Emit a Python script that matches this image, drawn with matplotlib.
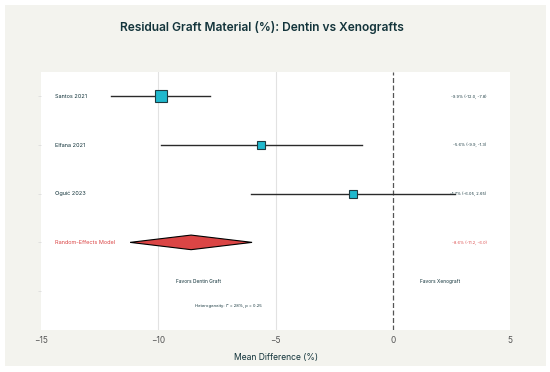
import matplotlib
matplotlib.use("Agg")
import matplotlib.pyplot as plt
from matplotlib.patches import Rectangle, Polygon

plt.rcParams['font.family'] = ['Inter', 'DejaVu Sans']

studies = ["Santos 2021", "Elfana 2021", "Oguić 2023"]
means = [-9.9, -5.6, -1.7]
lows = [-12.0, -9.9, -6.05]
highs = [-7.8, -1.3, 2.65]
labels_ci = ["-9.9% (-12.0, -7.8)", "-5.6% (-9.9, -1.3)", "-1.7% (-6.05, 2.65)"]
marker_sizes = [9, 6, 6.3]

pooled_label = "Random-Effects Model"
pooled_mean = -8.6
pooled_low = -11.2
pooled_high = -6.0
pooled_text = "-8.6% (-11.2, -6.0)"

heterogeneity = "Heterogeneity: I² = 28%, p = 0.25"
title = "Residual Graft Material (%): Dentin vs Xenografts"
xlabel = "Mean Difference (%)"
xticks = [-15, -10, -5, 0, 5]

TEAL = "#1FB8CD"
RED = "#DB4545"
DARK = "#13343B"
BG = "#F3F3EE"

fig = plt.figure(figsize=(5.5, 3.72), dpi=100)
fig.patch.set_facecolor("white")
fig.patches.append(Rectangle((5/550, 6/372), 541/550, 361/372, transform=fig.transFigure,
                             facecolor=BG, edgecolor="none", zorder=-10))

ax = fig.add_axes([41/550, 42/372, 469/550, 258/372])
ax.set_facecolor("white")
for s in ax.spines.values():
    s.set_visible(False)

ys = [4, 3, 2]
for y, m, lo, hi, lab, ci, ms in zip(ys, means, lows, highs, studies, labels_ci, marker_sizes):
    ax.plot([lo, hi], [y, y], color="#2a2a2a", lw=1.0, zorder=3)
    ax.plot([m], [y], marker="s", ms=ms, mfc=TEAL, mec="#1d3a40", mew=0.8, zorder=4)
    ax.text(-14.4, y, lab, ha="left", va="center", fontsize=4.0, color=DARK)
    ax.text(4.0, y, ci, ha="right", va="center", fontsize=2.9, color=DARK, zorder=5)

yp = 1
diamond = Polygon([[pooled_low, yp], [pooled_mean, yp + 0.15], [pooled_high, yp], [pooled_mean, yp - 0.15]],
                  closed=True, facecolor=RED, edgecolor="black", lw=0.8, zorder=4)
ax.add_patch(diamond)
ax.text(-14.4, yp, pooled_label, ha="left", va="center", fontsize=4.0, color=RED)
ax.text(4.0, yp, pooled_text, ha="right", va="center", fontsize=2.9, color=RED)

ax.axvline(0, color="#555555", lw=0.9, ls=(0, (4, 2)), zorder=2)
for gx in [-10, -5]:
    ax.axvline(gx, color="#E2E2E2", lw=0.8, zorder=1)

ax.text(-8.3, 0.2, "Favors Dentin Graft", ha="center", va="center", fontsize=3.5, color=DARK)
ax.text(2.0, 0.2, "Favors Xenograft", ha="center", va="center", fontsize=3.5, color=DARK)
ax.text(-7.0, -0.3, heterogeneity, ha="center", va="center", fontsize=3.0, color=DARK)

ax.set_xlim(-15, 5)
ax.set_ylim(-0.8, 4.5)
ax.set_xticks(xticks)
ax.set_xticklabels([f"−{abs(t)}" if t < 0 else str(t) for t in xticks])
ax.set_yticks([4, 3, 2, 1, 0])
ax.set_yticklabels([])
ax.tick_params(axis="x", length=0, labelsize=6, labelcolor="#555555", pad=4)
ax.tick_params(axis="y", length=2.5, color="#DDDDDD", width=0.6)
ax.set_xlabel(xlabel, fontsize=6.2, color=DARK, labelpad=6)

fig.text(261.5/550, 1 - 28/372, title, ha="center", va="center", fontsize=8.6,
         fontweight="semibold", color=DARK)

fig.savefig("out.png", dpi=100, facecolor=fig.get_facecolor())
